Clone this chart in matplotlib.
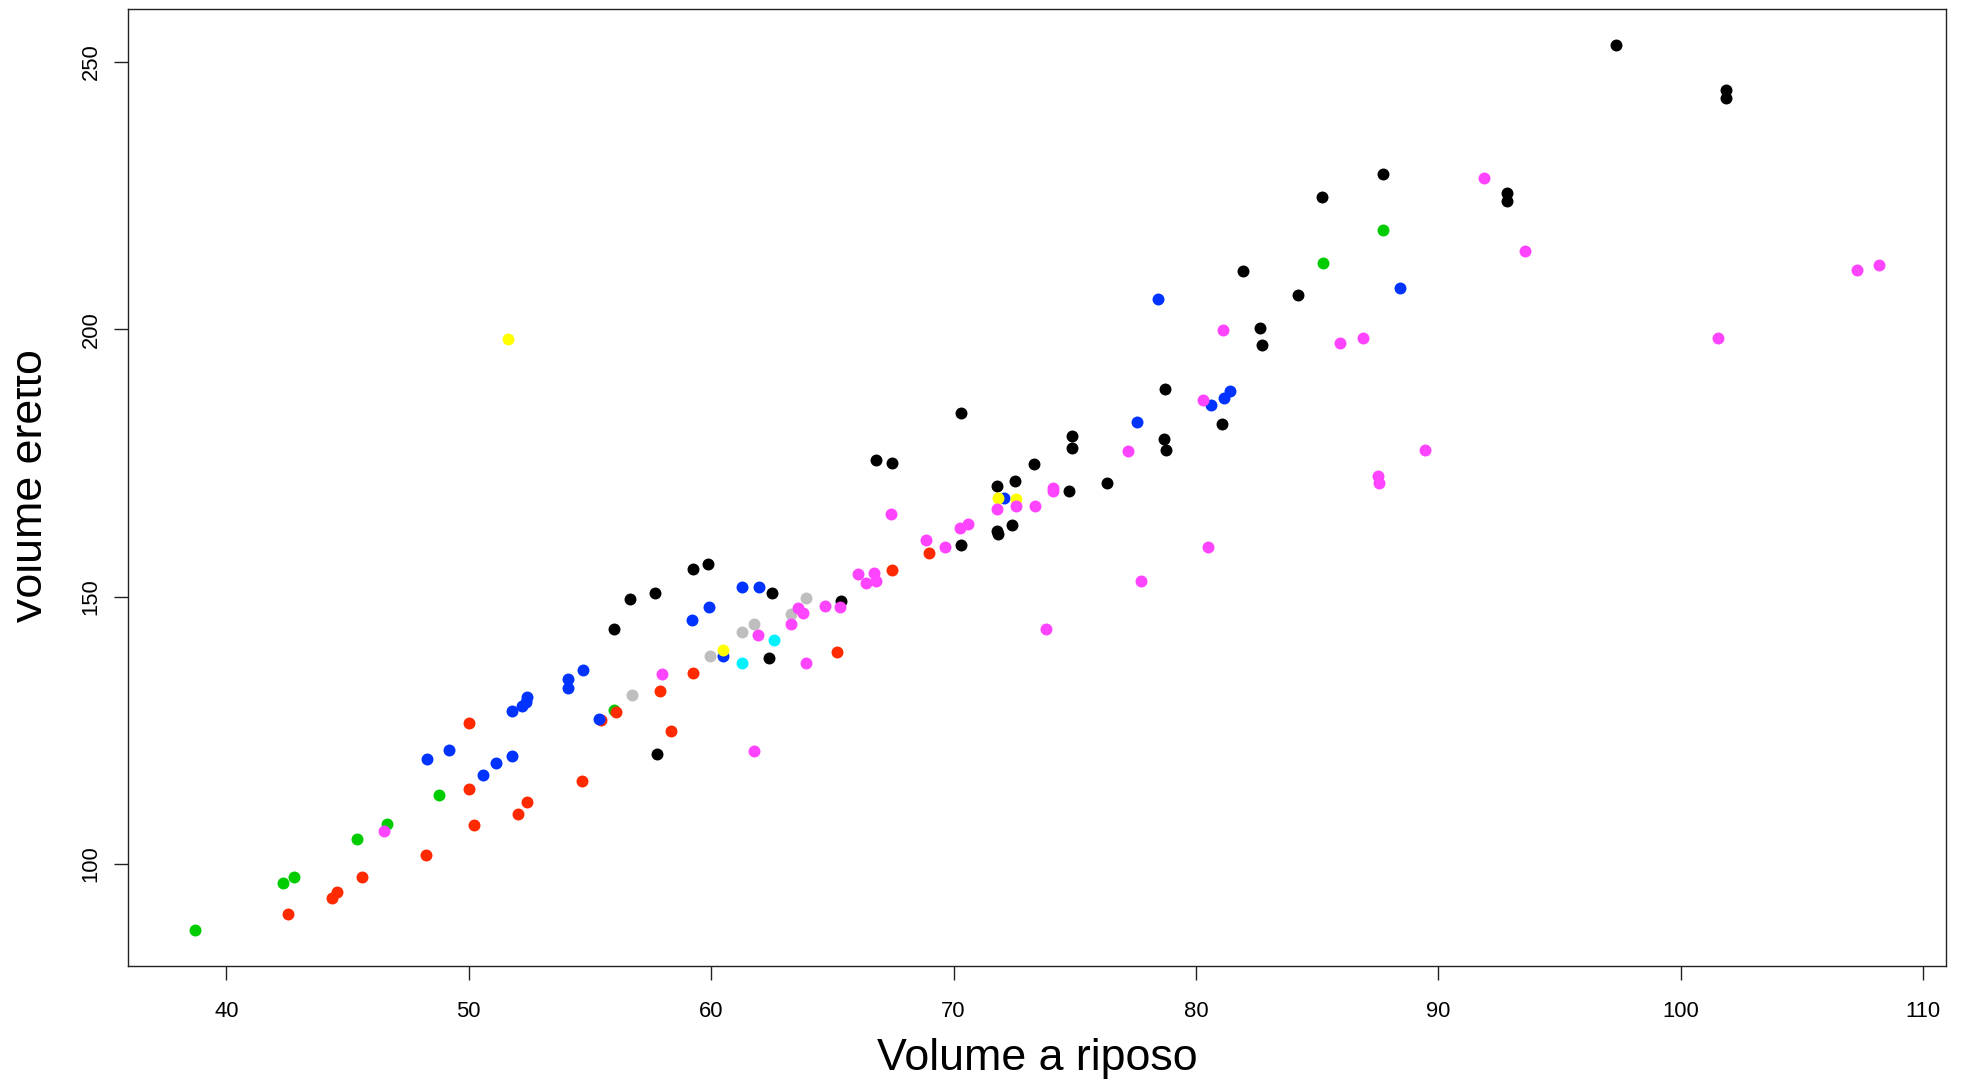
import matplotlib
matplotlib.use("Agg")
import matplotlib.pyplot as plt
from matplotlib.transforms import Bbox

plt.rcParams["font.family"] = ["Liberation Sans", "DejaVu Sans"]

# ---- data: volume a riposo (x) vs volume eretto (y), one pair of lists per group ----
black_x = [97.35, 101.87, 101.87, 87.72, 85.22, 92.83, 92.83, 81.95, 84.2, 82.65,
           82.74, 78.73, 78.7, 78.75, 81.09, 70.3, 74.87, 74.87, 76.35, 73.33,
           72.52, 71.79, 74.77, 72.39, 71.83, 71.8, 70.29, 66.82, 67.44, 59.85,
           59.23, 57.67, 56.66, 56.0, 62.5, 65.36, 62.38, 57.77]
black_y = [253.2, 244.7, 243.2, 229.0, 224.7, 225.5, 224.0, 210.9, 206.4, 200.2,
           197.0, 188.8, 179.4, 177.5, 182.3, 184.4, 180.0, 177.7, 171.3, 174.8,
           171.6, 170.7, 169.8, 163.4, 161.7, 162.2, 159.7, 175.5, 175.0, 156.1,
           155.2, 150.7, 149.5, 144.0, 150.6, 149.2, 138.6, 120.6]

green_x = [38.72, 42.34, 42.78, 45.40, 46.61, 48.76, 55.97, 85.25, 87.7]
green_y = [87.6, 96.5, 97.5, 104.7, 107.5, 112.9, 128.8, 212.4, 218.5]

red_x = [42.53, 44.37, 44.55, 45.58, 48.23, 50.0, 49.99, 50.23, 52.03, 52.4,
         54.67, 55.45, 56.06, 57.9, 58.34, 59.25, 65.21, 67.48, 68.97]
red_y = [90.6, 93.7, 94.8, 97.5, 101.6, 126.4, 114.1, 107.2, 109.4, 111.6,
         115.6, 127.0, 128.4, 132.4, 124.8, 135.7, 139.7, 154.9, 158.2]

blue_x = [48.28, 49.2, 50.58, 51.13, 51.78, 51.77, 52.19, 52.34, 52.39, 54.11,
          54.11, 54.72, 55.39, 59.19, 59.93, 61.27, 61.96, 60.48, 72.08, 77.55,
          78.45, 80.64, 81.14, 81.4, 88.43]
blue_y = [119.6, 121.4, 116.6, 118.9, 120.2, 128.7, 129.5, 130.3, 131.3, 132.9,
          134.6, 136.3, 127.2, 145.6, 148.0, 151.8, 151.8, 138.9, 168.4, 182.6,
          205.6, 185.8, 187.1, 188.5, 207.8]

gray_x = [56.72, 59.95, 61.27, 61.75, 63.29, 63.9]
gray_y = [131.6, 138.9, 143.3, 144.8, 146.8, 149.8]

cyan_x = [62.59, 61.27]
cyan_y = [141.9, 137.6]

yellow_x = [51.63, 60.48, 71.84, 72.57]
yellow_y = [198.1, 140.1, 168.4, 168.2]

magenta_x = [46.51, 57.97, 61.78, 61.93, 63.29, 63.9, 63.6, 63.8, 64.68, 65.31,
             66.04, 66.72, 66.37, 66.78, 67.43, 68.86, 69.65, 70.28, 70.6, 71.8,
             72.58, 73.35, 74.11, 74.11, 73.8, 77.19, 77.74, 80.27, 80.5, 81.11,
             85.96, 86.89, 87.53, 87.57, 89.44, 91.87, 93.56, 101.52, 107.26, 108.17]
magenta_y = [106.1, 135.5, 121.1, 142.8, 144.8, 137.6, 147.8, 146.9, 148.3, 148.1,
             154.3, 154.5, 152.6, 153.0, 165.5, 160.5, 159.3, 162.9, 163.6, 166.3,
             167.0, 166.9, 170.4, 169.8, 144.0, 177.2, 152.9, 186.7, 159.3, 199.8,
             197.5, 198.3, 172.5, 171.2, 177.4, 228.2, 214.6, 198.3, 211.0, 212.0]

x_ticks = [40, 50, 60, 70, 80, 90, 100, 110]
y_ticks = [100, 150, 200, 250]

# drawing order and colours
groups = [
    (black_x, black_y, "#000000"),
    (green_x, green_y, "#00CC00"),
    (red_x, red_y, "#FF2A00"),
    (blue_x, blue_y, "#0033FF"),
    (gray_x, gray_y, "#BEBEBE"),
    (cyan_x, cyan_y, "#00F2FF"),
    (yellow_x, yellow_y, "#FFFF00"),
    (magenta_x, magenta_y, "#FF44FF"),
]

fig = plt.figure(figsize=(19.61, 10.80), dpi=100)
fig.patch.set_facecolor("white")
ax = fig.add_axes([0.0653, 0.1058, 0.9271, 0.8856])

for xs, ys, col in groups:
    ax.plot(xs, ys, "o", ls="none", ms=8.6, mew=0, color=col)

# R-style axis range: data range plus 4% on each side
all_x = [v for g in groups for v in g[0]]
all_y = [v for g in groups for v in g[1]]
dx = (max(all_x) - min(all_x)) * 0.04
dy = (max(all_y) - min(all_y)) * 0.04
ax.set_xlim(min(all_x) - dx, max(all_x) + dx)
ax.set_ylim(min(all_y) - dy, max(all_y) + dy)

for sp in ax.spines.values():
    sp.set_linewidth(1.0)
    sp.set_color("#222222")

ax.set_xticks(x_ticks)
ax.set_xticklabels([str(t) for t in x_ticks])
ax.set_yticks(y_ticks)
ax.set_yticklabels([str(t) for t in y_ticks], rotation=90, va="center")
ax.tick_params(axis="both", direction="out", length=10.3, width=1.0,
               color="#222222", labelsize=15.8)
ax.tick_params(axis="x", pad=15)
ax.tick_params(axis="y", pad=8.9)

fig.text(0.5288, 0.0093, "Volume a riposo", fontsize=32.2,
         ha="center", va="baseline")
ylab = fig.text(0.02126, 0.5486, "Volume eretto", fontsize=32.2,
                rotation=90, rotation_mode="anchor", ha="center", va="baseline")
# left edge of the y title is cut off
ylab.set_clip_box(Bbox.from_extents(16.5, 0, 300, 1080))
ylab.set_clip_on(True)

fig.savefig("out.png", dpi=100, facecolor="white")
